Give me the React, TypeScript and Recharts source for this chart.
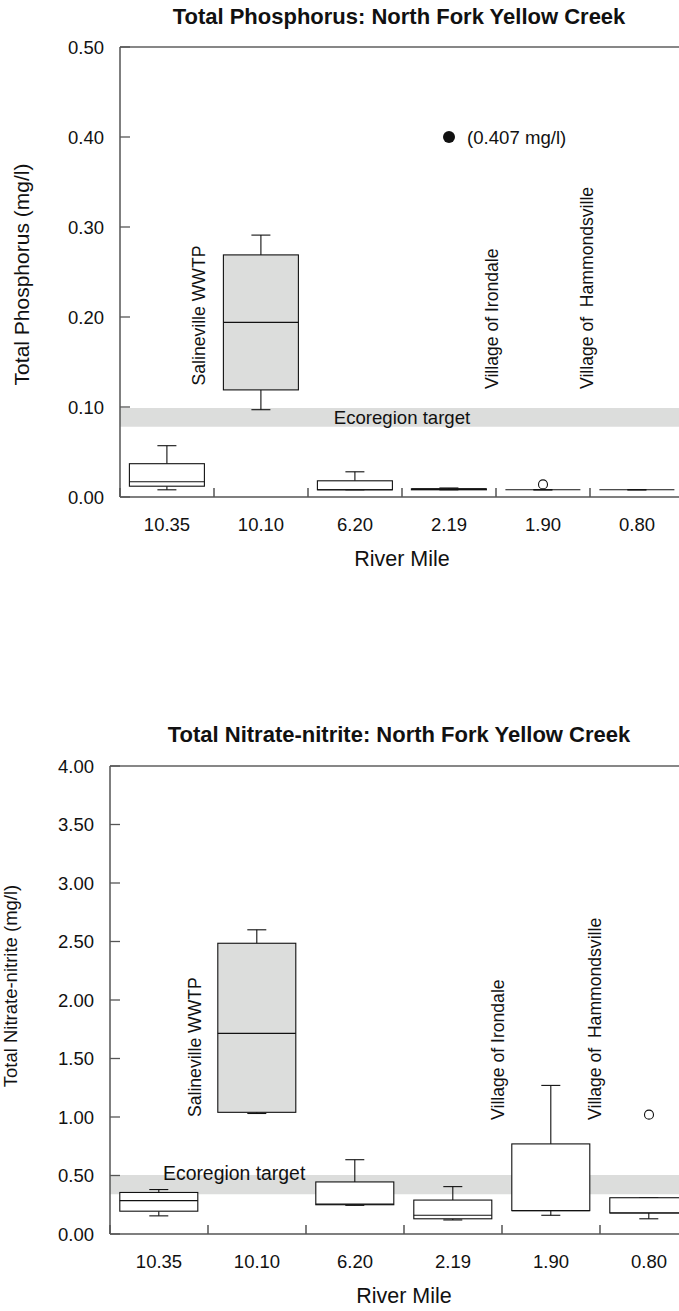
import {
  Bar,
  ComposedChart,
  Label,
  ReferenceArea,
  ReferenceDot,
  ReferenceLine,
  Scatter,
  XAxis,
  YAxis,
} from "recharts"

const FONT = '"Liberation Sans", Arial, Helvetica, sans-serif'
const INK = "#111"
const AXIS = "#555"
const BAND = "#dcdddc"
const SHADED_SITE = "10.10"

const SITES = ["10.35", "10.10", "6.20", "2.19", "1.90", "0.80"]

// Total phosphorus (mg/l)
const TP_LO = [0.008, 0.097, 0.008, 0.008, 0.008, 0.008]
const TP_Q1 = [0.012, 0.119, 0.008, 0.008, 0.008, 0.008]
const TP_MED = [0.017, 0.194, 0.008, 0.009, 0.008, 0.008]
const TP_Q3 = [0.037, 0.269, 0.018, 0.009, 0.008, 0.008]
const TP_HI = [0.057, 0.291, 0.028, 0.01, 0.008, 0.008]
const TP_OUTLIER = [null, null, null, null, 0.014, null]
const TP_EXTREME = [null, null, null, 0.4, null, null]
const TP_EXTREME_LABEL = "(0.407 mg/l)"
const TP_TICKS = [0, 0.1, 0.2, 0.3, 0.4, 0.5]
const TP_TARGET = [0.078, 0.099]
const TP_NOTES = ["Salineville WWTP", "Village of Irondale", "Village of  Hammondsville"]
const TP_NOTE_SITES = ["10.10", "1.90", "0.80"]
const TP_NOTE_VALUES = [0.124, 0.12, 0.12]

// Total nitrate-nitrite (mg/l)
const NO_LO = [0.155, 1.03, 0.245, 0.12, 0.16, 0.13]
const NO_Q1 = [0.195, 1.04, 0.25, 0.13, 0.2, 0.18]
const NO_MED = [0.285, 1.715, 0.255, 0.16, 0.2, 0.18]
const NO_Q3 = [0.355, 2.485, 0.445, 0.29, 0.77, 0.31]
const NO_HI = [0.38, 2.6, 0.635, 0.405, 1.27, 0.31]
const NO_OUTLIER = [null, null, null, null, null, 1.02]
const NO_EXTREME = [null, null, null, null, null, null]
const NO_TICKS = [0, 0.5, 1, 1.5, 2, 2.5, 3, 3.5, 4]
const NO_TARGET = [0.34, 0.505]
const NO_NOTES = ["Salineville WWTP", "Village of Irondale", "Village of  Hammondsville"]
const NO_NOTE_SITES = ["10.10", "1.90", "0.80"]
const NO_NOTE_VALUES = [1.0, 0.975, 0.975]

const buildRows = (
  lo: number[],
  q1: number[],
  med: number[],
  q3: number[],
  hi: number[],
  outlier: (number | null)[],
  extreme: (number | null)[]
) =>
  SITES.map((site, i) => ({
    site,
    lo: lo[i],
    q1: q1[i],
    med: med[i],
    q3: q3[i],
    hi: hi[i],
    outlier: outlier[i],
    extreme: extreme[i],
  }))

const tpRows = buildRows(TP_LO, TP_Q1, TP_MED, TP_Q3, TP_HI, TP_OUTLIER, TP_EXTREME)
const noRows = buildRows(NO_LO, NO_Q1, NO_MED, NO_Q3, NO_HI, NO_OUTLIER, NO_EXTREME)

// bar spans 0..hi, so the box parts can be placed on the same pixel scale
function BoxShape(props: any) {
  const { x, y, width, height, payload } = props
  const { lo, q1, med, q3, hi } = payload
  const py = (v: number) => y + height * (1 - v / hi)
  const cx = x + width / 2
  const cap = 9.5
  const fill = payload.site === SHADED_SITE ? BAND : "#fff"
  return (
    <g stroke={INK} strokeWidth={1.1}>
      <line x1={cx} x2={cx} y1={py(hi)} y2={py(q3)} />
      <line x1={cx - cap} x2={cx + cap} y1={py(hi)} y2={py(hi)} />
      <line x1={cx} x2={cx} y1={py(q1)} y2={py(lo)} />
      <line x1={cx - cap} x2={cx + cap} y1={py(lo)} y2={py(lo)} />
      <rect x={x} y={py(q3)} width={width} height={py(q1) - py(q3)} fill={fill} />
      <line x1={x} x2={x + width} y1={py(med)} y2={py(med)} />
    </g>
  )
}

function OutlierShape(props: any) {
  const { cx, cy, payload } = props
  if (payload?.outlier == null) return null
  return <circle cx={cx} cy={cy} r={4.5} fill="#fff" stroke={INK} strokeWidth={1.1} />
}

function ExtremeShape(props: any) {
  const { cx, cy, payload } = props
  if (payload?.extreme == null) return null
  return (
    <g>
      <circle cx={cx} cy={cy} r={6} fill={INK} />
      <text x={cx + 18} y={cy + 6.6} fontSize={18.6} fontFamily={FONT} fill={INK}>
        {TP_EXTREME_LABEL}
      </text>
    </g>
  )
}

function XTick(props: any) {
  const { x, y, payload } = props
  const half = payload?.offset ?? 47
  return (
    <g>
      <line x1={x - half} x2={x - half} y1={y} y2={y - 9} stroke={AXIS} strokeWidth={1.5} />
      <text x={x} y={y + 33.6} textAnchor="middle" fontSize={18.5} fontFamily={FONT} fill={INK}>
        {payload.value}
      </text>
    </g>
  )
}

function YTick(props: any) {
  const { x, y, payload } = props
  return (
    <g>
      <line x1={x} x2={x + 10} y1={y} y2={y} stroke={AXIS} strokeWidth={1.3} />
      <text x={x - 16} y={y + 6.6} textAnchor="end" fontSize={18.5} fontFamily={FONT} fill={INK}>
        {Number(payload.value).toFixed(2)}
      </text>
    </g>
  )
}

const noteShape = (text: string, dx: number) => (p: any) =>
  (
    <text
      x={p.cx + dx}
      y={p.cy}
      transform={`rotate(-90 ${p.cx + dx} ${p.cy})`}
      fontSize={17.6}
      fontFamily={FONT}
      fill={INK}
      style={{ whiteSpace: "pre" }}
    >
      {text}
    </text>
  )

type PanelProps = {
  rows: ReturnType<typeof buildRows>
  width: number
  height: number
  top: number
  yAxisWidth: number
  xAxisHeight: number
  max: number
  ticks: number[]
  target: number[]
  targetLabel: (vb: any) => any
  notes: string[]
  noteSites: string[]
  noteValues: number[]
  noteDx: number[]
  yTitle: string
  yTitleSize: number
  yTitleX: number
  yTitleDy: number
}

function Panel(p: PanelProps) {
  return (
    <ComposedChart
      width={p.width}
      height={p.height}
      data={p.rows}
      margin={{ top: p.top, right: 6, bottom: 0, left: 0 }}
      barCategoryGap="10%"
    >
      <ReferenceArea
        y1={p.target[0]}
        y2={p.target[1]}
        fill={BAND}
        fillOpacity={1}
        stroke="none"
        label={{ content: (lp: any) => p.targetLabel(lp.viewBox) }}
      />
      <XAxis
        dataKey="site"
        type="category"
        interval={0}
        tickSize={0}
        tickMargin={0}
        height={p.xAxisHeight}
        tick={<XTick />}
        axisLine={{ stroke: AXIS, strokeWidth: 1.5 }}
      >
        <Label
          content={(lp: any) => {
            const vb = lp.viewBox
            return (
              <text
                x={vb.x + vb.width / 2}
                y={vb.y + 69}
                textAnchor="middle"
                fontSize={21.5}
                fontFamily={FONT}
                fill={INK}
              >
                River Mile
              </text>
            )
          }}
        />
      </XAxis>
      <YAxis
        type="number"
        domain={[0, p.max]}
        ticks={p.ticks}
        interval={0}
        width={p.yAxisWidth}
        tickSize={0}
        tickMargin={0}
        tick={<YTick />}
        axisLine={{ stroke: AXIS, strokeWidth: 1.5 }}
      >
        <Label
          content={(lp: any) => {
            const vb = lp.viewBox
            const tx = vb.x + p.yTitleX
            const ty = vb.y + vb.height / 2 + p.yTitleDy
            return (
              <text
                x={tx}
                y={ty}
                transform={`rotate(-90 ${tx} ${ty})`}
                textAnchor="middle"
                fontSize={p.yTitleSize}
                fontFamily={FONT}
                fill={INK}
              >
                {p.yTitle}
              </text>
            )
          }}
        />
      </YAxis>
      <ReferenceLine y={p.max} stroke={INK} strokeWidth={1.2} />
      <Bar dataKey="hi" shape={<BoxShape />} isAnimationActive={false} />
      <Scatter dataKey="outlier" shape={<OutlierShape />} isAnimationActive={false} />
      <Scatter dataKey="extreme" shape={<ExtremeShape />} isAnimationActive={false} />
      {p.notes.map((text, i) => (
        <ReferenceDot
          key={text}
          x={p.noteSites[i]}
          y={p.noteValues[i]}
          r={0}
          shape={noteShape(text, p.noteDx[i])}
        />
      ))}
    </ComposedChart>
  )
}

const titleStyle = (top: number) => ({
  position: "absolute" as const,
  left: 99,
  top,
  width: 600,
  textAlign: "center" as const,
  fontFamily: FONT,
  fontWeight: 700,
  fontSize: 22,
  lineHeight: "22px",
  color: INK,
  whiteSpace: "nowrap" as const,
})

export default function App() {
  return (
    <div
      style={{
        position: "absolute",
        left: 0,
        top: 0,
        width: 679,
        height: 1311,
        overflow: "hidden",
        background: "#fff",
      }}
    >
      <div style={{ position: "absolute", left: 0, top: 0 }}>
        <Panel
          rows={tpRows}
          width={690}
          height={577}
          top={47}
          yAxisWidth={120}
          xAxisHeight={80}
          max={0.5}
          ticks={TP_TICKS}
          target={TP_TARGET}
          targetLabel={(vb) => (
            <text
              x={vb.x + vb.width / 2}
              y={vb.y + vb.height / 2 + 6.8}
              textAnchor="middle"
              fontSize={18.6}
              fontFamily={FONT}
              fill={INK}
            >
              Ecoregion target
            </text>
          )}
          notes={TP_NOTES}
          noteSites={TP_NOTE_SITES}
          noteValues={TP_NOTE_VALUES}
          noteDx={[-56, -45, -44]}
          yTitle="Total Phosphorus (mg/l)"
          yTitleSize={21}
          yTitleX={28.6}
          yTitleDy={2.5}
        />
      </div>
      <div style={{ position: "absolute", left: 0, top: 700 }}>
        <Panel
          rows={noRows}
          width={704}
          height={611}
          top={66}
          yAxisWidth={110}
          xAxisHeight={77}
          max={4}
          ticks={NO_TICKS}
          target={NO_TARGET}
          targetLabel={(vb) => (
            <text x={vb.x + 53} y={vb.y + 5} fontSize={19.4} fontFamily={FONT} fill={INK}>
              Ecoregion target
            </text>
          )}
          notes={NO_NOTES}
          noteSites={NO_NOTE_SITES}
          noteValues={NO_NOTE_VALUES}
          noteDx={[-56, -47, -48]}
          yTitle="Total Nitrate-nitrite (mg/l)"
          yTitleSize={18.5}
          yTitleX={17}
          yTitleDy={-14}
        />
      </div>
      <div style={titleStyle(6.4)}>Total Phosphorus: North Fork Yellow Creek</div>
      <div style={titleStyle(724.1)}>Total Nitrate-nitrite: North Fork Yellow Creek</div>
    </div>
  )
}
